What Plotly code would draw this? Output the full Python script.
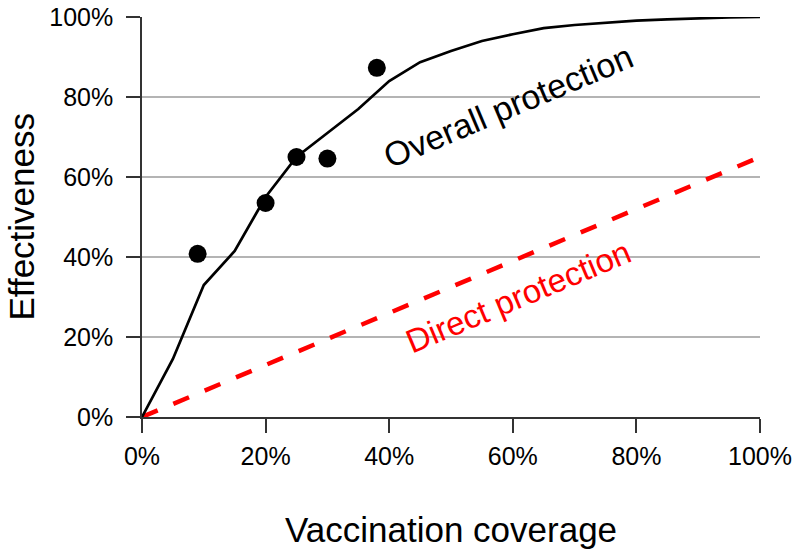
import plotly.graph_objects as go

# Data (percent units)
curve_x = [0, 5, 10, 15, 20, 25, 30, 35, 40, 45, 50, 55, 60, 65, 70, 75, 80, 85, 90, 95, 100]
curve_y = [0, 14.5, 33, 41.5, 55, 65, 71, 77, 84, 88.7, 91.5, 94, 95.7, 97.2, 98, 98.6, 99.1, 99.4, 99.7, 99.9, 100]
obs_x = [9, 20, 25, 30, 38]
obs_y = [40.8, 53.5, 65, 64.6, 87.3]
direct_x = [0, 100]
direct_y = [0, 65]
tick_vals = [0, 20, 40, 60, 80, 100]
tick_text = ["0%", "20%", "40%", "60%", "80%", "100%"]

FONT = "Liberation Sans, Arial, Helvetica, sans-serif"

fig = go.Figure()
fig.add_trace(go.Scatter(x=direct_x, y=direct_y, mode="lines",
                         line=dict(color="#ff0000", width=4.5, dash="17px,17px"),
                         cliponaxis=False, showlegend=False))
fig.add_trace(go.Scatter(x=curve_x, y=curve_y, mode="lines",
                         line=dict(color="black", width=2.7),
                         cliponaxis=False, showlegend=False))
fig.add_trace(go.Scatter(x=obs_x, y=obs_y, mode="markers",
                         marker=dict(color="black", size=18),
                         cliponaxis=False, showlegend=False))

fig.update_layout(
    template="none",
    width=800, height=557,
    margin=dict(l=142, r=40, t=17, b=140, pad=0),
    paper_bgcolor="white", plot_bgcolor="white",
    font=dict(family=FONT, color="black"),
    annotations=[
        dict(text="Overall protection", x=59.3, y=77.7, xref="x", yref="y",
             showarrow=False, textangle=-22.8, font=dict(size=34, color="black", family=FONT)),
        dict(text="Direct protection", x=60.9, y=30.2, xref="x", yref="y",
             showarrow=False, textangle=-22.8, font=dict(size=33, color="#ff0000", family=FONT)),
        dict(text="Vaccination coverage", x=0.5, y=-0.28, xref="paper", yref="paper",
             showarrow=False, xanchor="center", yanchor="middle",
             font=dict(size=35, color="black", family=FONT)),
        dict(text="Effectiveness", x=-0.1966, y=0.5, xref="paper", yref="paper",
             showarrow=False, xanchor="center", yanchor="middle", textangle=-90,
             font=dict(size=35, color="black", family=FONT)),
    ],
)
fig.update_xaxes(range=[0, 100], tickvals=tick_vals, ticktext=tick_text, automargin=False,
                 showgrid=False, zeroline=False, showline=True, linecolor="#333333", linewidth=1.5,
                 ticks="outside", ticklen=14, tickwidth=1.5, tickcolor="#333333",
                 tickfont=dict(size=25, color="black", family=FONT), ticklabelstandoff=2)
fig.update_yaxes(range=[0, 100], tickvals=tick_vals, ticktext=tick_text, automargin=False,
                 showgrid=True, gridcolor="#b4b4b4", gridwidth=1.5, zeroline=False,
                 showline=True, linecolor="#333333", linewidth=1.5,
                 ticks="outside", ticklen=14, tickwidth=1.5, tickcolor="#333333",
                 tickfont=dict(size=25, color="black", family=FONT), ticklabelstandoff=8)

fig.write_html("out.html", config={"displayModeBar": False},
               post_script="document.body.style.margin='0';")
